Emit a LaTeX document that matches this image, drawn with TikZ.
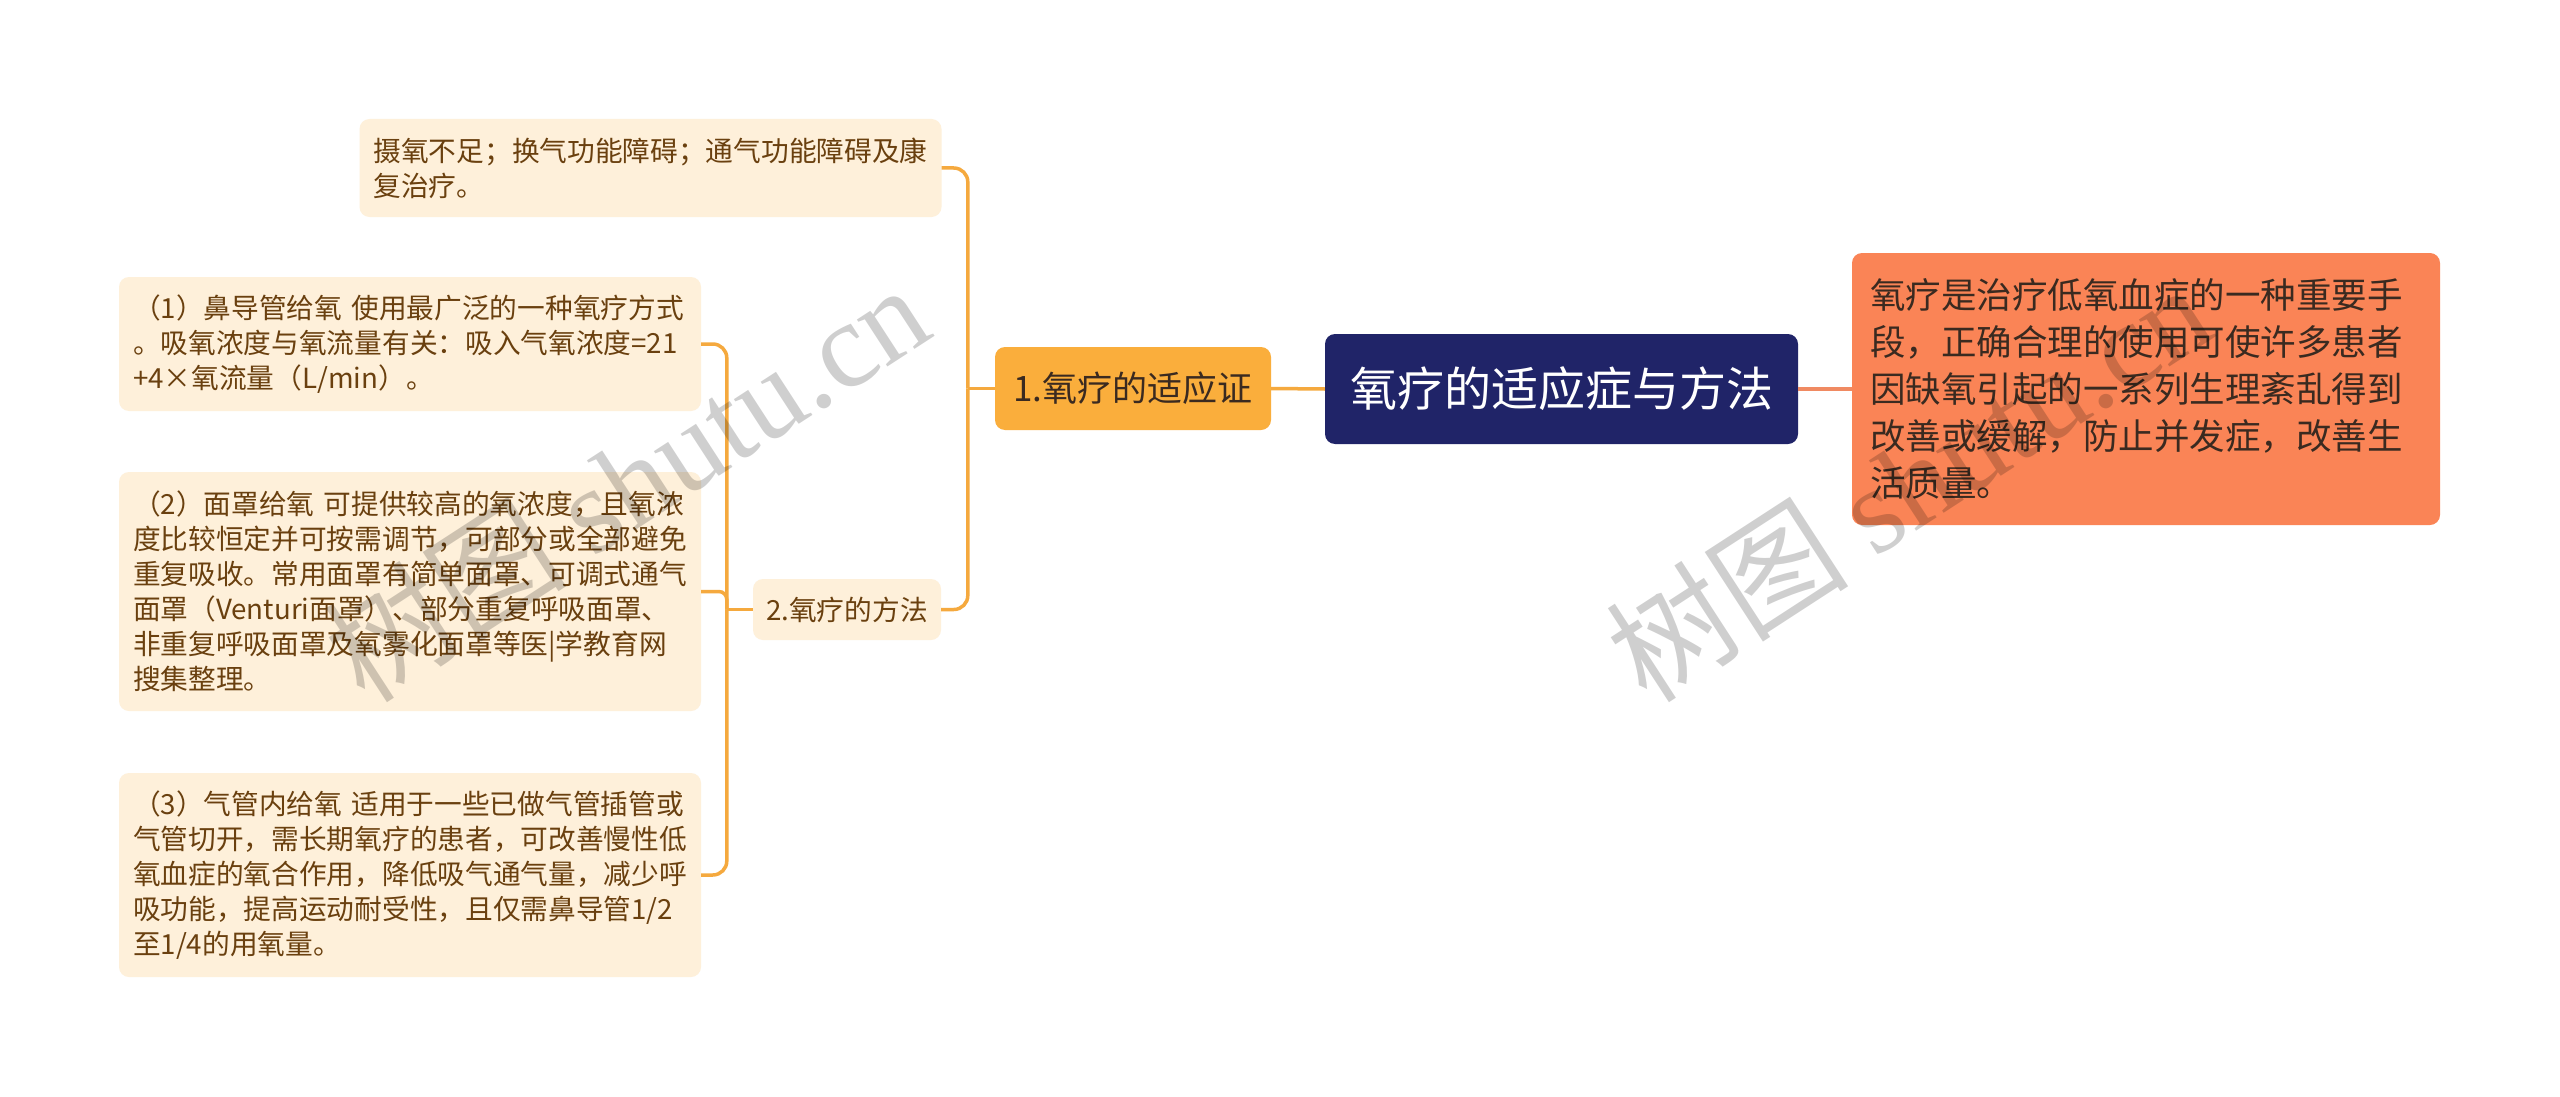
\documentclass[tikz,border=0pt]{standalone}
\usepackage{fontspec}
\setmainfont{Noto Sans CJK SC}
\newfontfamily\wmlatin{Liberation Serif}
\definecolor{cream}{HTML}{FEF0DA}
\definecolor{leaftext}{HTML}{6A400F}
\definecolor{orangefill}{HTML}{FAAE3C}
\definecolor{orangeline}{HTML}{F5A93E}
\definecolor{navy}{HTML}{202468}
\definecolor{coral}{HTML}{FA8456}
\definecolor{coralline}{HTML}{F08A62}
\definecolor{darktext}{HTML}{3A2A20}
\begin{document}
\begin{tikzpicture}[x=1pt,y=-1pt,
  leaf/.style={fill=cream, rounded corners=10pt, text=leaftext, align=left,
    font=\fontsize{27.7pt}{35pt}\selectfont, inner xsep=14pt, inner ysep=0pt,
    text width=554pt},
  midbox/.style={rounded corners=10pt, inner sep=0pt},
  conn/.style={draw=orangeline, line width=3.5pt},
  rconn/.style={draw=coralline, line width=3.5pt},
  wm/.style={text=black, text opacity=0.19, font=\fontsize{122pt}{122pt}\selectfont,
    inner sep=0pt, rotate=33, anchor=base west}
]
\fill[white] (0,0) rectangle (2560,1097);
\useasboundingbox (0,0) rectangle (2560,1097);

% nodes
\node[leaf, minimum height=98pt] (l0) at (650.5,168)
  {摄氧不足；换气功能障碍；通气功能障碍及康\\复治疗。};
\node[leaf, minimum height=134pt] (l1) at (410,344)
  {（1）鼻导管给氧~使用最广泛的一种氧疗方式\\。吸氧浓度与氧流量有关：吸入气氧浓度=21\\+4×氧流量（L/min）。};
\node[leaf, minimum height=239pt] (l2) at (410,591.5)
  {（2）面罩给氧~可提供较高的氧浓度，且氧浓\\度比较恒定并可按需调节，可部分或全部避免\\重复吸收。常用面罩有简单面罩、可调式通气\\面罩（Venturi面罩）、部分重复呼吸面罩、\\非重复呼吸面罩及氧雾化面罩等医|学教育网\\搜集整理。};
\node[leaf, minimum height=204pt] (l3) at (410,875)
  {（3）气管内给氧~适用于一些已做气管插管或\\气管切开，需长期氧疗的患者，可改善慢性低\\氧血症的氧合作用，降低吸气通气量，减少呼\\吸功能，提高运动耐受性，且仅需鼻导管1/2\\至1/4的用氧量。};

\node[midbox, fill=cream, text=leaftext, font=\fontsize{27.7pt}{35pt}\selectfont,
  minimum width=188pt, minimum height=61pt] (m2) at (847,609.5) {2.氧疗的方法};
\node[midbox, fill=orangefill, text=darktext, font=\fontsize{35pt}{40pt}\selectfont,
  minimum width=276pt, minimum height=83pt] (m1) at (1133,388.5) {1.氧疗的适应证};
\node[midbox, fill=navy, text=white, font=\fontsize{47pt}{52pt}\selectfont,
  minimum width=473pt, minimum height=110pt] (root) at (1561.5,389) {氧疗的适应症与方法};
\node[fill=coral, rounded corners=10pt, text=darktext, align=left,
  font=\fontsize{35.5pt}{47pt}\selectfont, inner xsep=18pt, inner ysep=0pt,
  text width=552pt, minimum height=272pt] (r) at (2146,389)
  {氧疗是治疗低氧血症的一种重要手\\段，正确合理的使用可使许多患者\\因缺氧引起的一系列生理紊乱得到\\改善或缓解，防止并发症，改善生\\活质量。};

% connectors
\draw[conn] (root.west) -- (m1.east);
\draw[rconn] (root.east) -- (r.west);
\draw[conn] (m1.west) -- ++(-27,0) coordinate (j1);
\draw[conn, rounded corners=14pt] (j1) |- (l0.east);
\draw[conn, rounded corners=14pt] (j1) |- (m2.east);
\draw[conn] (m2.west) -- ++(-26,0) coordinate (j2);
\draw[conn, rounded corners=14pt] (j2) |- (l1.east);
\draw[conn, rounded corners=8pt] (j2) |- (l2.east);
\draw[conn, rounded corners=14pt] (j2) |- (l3.east);

% watermarks
\node[wm] (wm1) at (365,706) {树图 {\wmlatin shutu.cn}};
\node[wm] (wm2) at (1647,706) {树图 {\wmlatin shutu.cn}};
\end{tikzpicture}
\end{document}
